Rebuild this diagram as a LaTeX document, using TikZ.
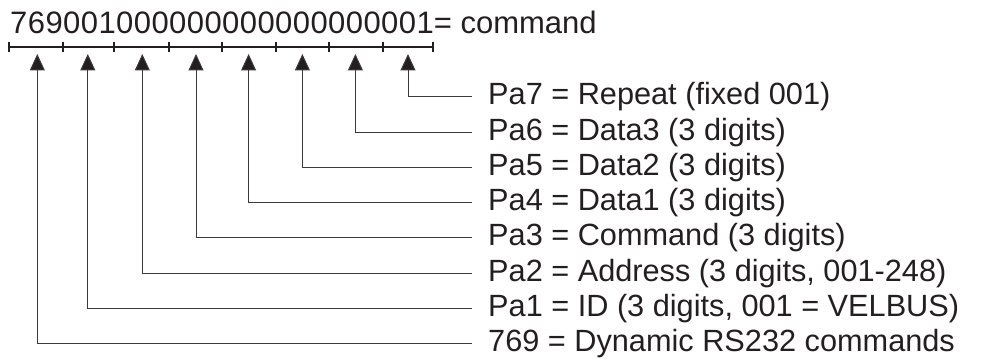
\documentclass[tikz,border=0pt]{standalone}
\usepackage{fontspec}
\setmainfont{Liberation Sans}
\usetikzlibrary{arrows.meta}
\definecolor{ink}{HTML}{231F20}
\definecolor{wire}{HTML}{3A3A3A}
\begin{document}
\begin{tikzpicture}[x=1pt,y=1pt,
  lbl/.style={anchor=base west, inner sep=0pt, text height=22pt, text depth=6pt,
              font=\fontsize{30.7}{36}\selectfont, text=ink},
  codetext/.style={anchor=base west, inner sep=0pt, font=\fontsize{31}{36}\selectfont, text=ink},
  ptr/.style={draw=wire, line width=1pt, -{Triangle[width=15pt,length=16.5pt,fill=ink]}},
  bar/.style={draw=ink, line width=2pt},
]
\useasboundingbox (0,0) rectangle (982,-363);

% the command string
\node[codetext] (code) at (10,-33.3)
  {{\addfontfeatures{LetterSpace=1.4}769001000000000000000001}= command};

% scale bar with group ticks
\draw[bar] (9.3,-46.7) -- (433.3,-46.7);
\foreach \x in {9.3,62.7,114.3,169.3,222.3,276,329.3,382.7,433.3}
  \draw[bar] (\x,-41.7) -- (\x,-51.7);

% arrow tips under each group
\coordinate (t0) at (37.3,-54);
\coordinate (t1) at (87.8,-54);
\coordinate (t2) at (142.3,-54);
\coordinate (t3) at (196,-54);
\coordinate (t4) at (248.6,-54);
\coordinate (t5) at (302.4,-54);
\coordinate (t6) at (355.4,-54);
\coordinate (t7) at (408,-54);

% field descriptions
\node[lbl] (p7) at (488,-105)    {Pa7 = Repeat (fixed 001)};
\node[lbl] (p6) at (488,-140.25) {Pa6 = Data3 (3 digits)};
\node[lbl] (p5) at (488,-175.5)  {Pa5 = Data2 (3 digits)};
\node[lbl] (p4) at (488,-210.75) {Pa4 = Data1 (3 digits)};
\node[lbl] (p3) at (488,-246)    {Pa3 = Command (3 digits)};
\node[lbl] (p2) at (488,-281.25) {Pa2 = Address (3 digits, 001-248)};
\node[lbl] (p1) at (488,-316.5)  {Pa1 = ID (3 digits, 001 = VELBUS)};
\node[lbl] (p0) at (488,-351.75) {769 = Dynamic RS232 commands};

% connectors from each description up to its group
\foreach \i in {0,...,7}
  \draw[ptr] ([xshift=-16pt]p\i.west) -| (t\i);
\end{tikzpicture}
\end{document}
